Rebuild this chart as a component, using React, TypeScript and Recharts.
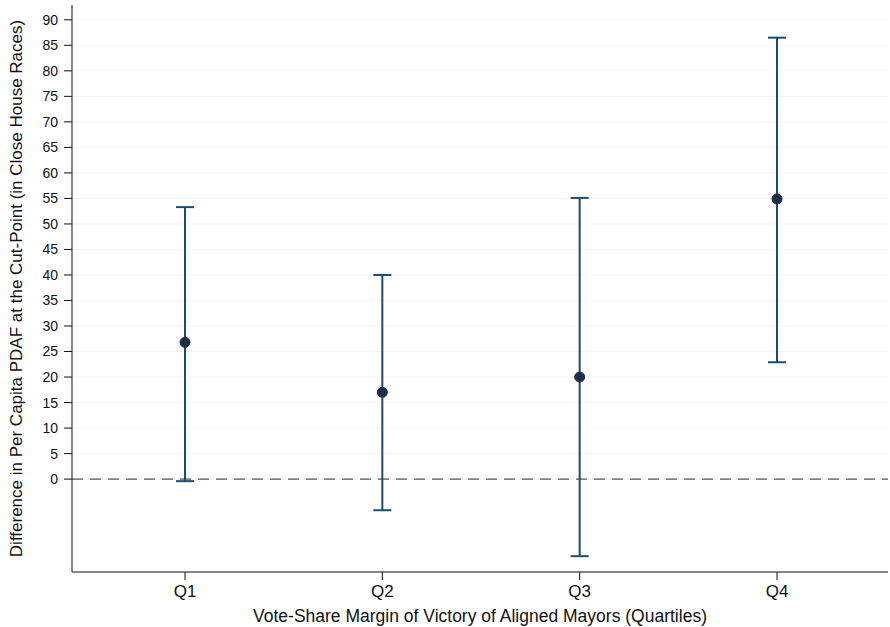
import { ComposedChart, Line, ErrorBar, XAxis, YAxis, CartesianGrid, ReferenceLine } from 'recharts'

const quartiles = ['Q1', 'Q2', 'Q3', 'Q4']
const estimates = [26.8, 17.0, 20.0, 54.9]
const upperCI = [53.3, 40.0, 55.1, 86.5]
const lowerCI = [-0.4, -6.1, -15.1, 22.9]
const yTicks = [0, 5, 10, 15, 20, 25, 30, 35, 40, 45, 50, 55, 60, 65, 70, 75, 80, 85, 90]

const data = quartiles.map((q, i) => ({
  q,
  est: estimates[i],
  err: [estimates[i] - lowerCI[i], upperCI[i] - estimates[i]],
}))

const font = 'Liberation Sans, Arial, Helvetica, sans-serif'

export default function App() {
  return (
    <div style={{ position: 'absolute', left: 0, top: 0, background: '#fff' }}>
      <ComposedChart
        width={890}
        height={627}
        data={data}
        margin={{ top: 5, right: 2, bottom: 25, left: 40 }}
      >
        <CartesianGrid vertical={false} stroke='#f3f4f5' horizontalValues={yTicks} />
        <XAxis
          dataKey='q'
          scale='point'
          padding={{ left: 113, right: 111 }}
          height={30}
          tickSize={8}
          tickMargin={5}
          stroke='#111'
          tick={{ fill: '#111', fontSize: 17, fontFamily: font }}
          label={{
            value: 'Vote-Share Margin of Victory of Aligned Mayors (Quartiles)',
            position: 'insideBottom',
            offset: -20,
            fill: '#111',
            fontSize: 17.5,
            fontFamily: font,
          }}
        />
        <YAxis
          type='number'
          domain={[-18.2, 92.9]}
          allowDataOverflow
          ticks={yTicks}
          interval={0}
          width={32}
          tickSize={8}
          tickMargin={6}
          stroke='#111'
          tick={{ fill: '#111', fontSize: 14, fontFamily: font }}
          label={{
            value: 'Difference in Per Capita PDAF at the Cut-Point (in Close House Races)',
            angle: -90,
            position: 'insideLeft',
            offset: -24,
            style: { textAnchor: 'middle' },
            fill: '#111',
            fontSize: 17,
            fontFamily: font,
          }}
        />
        <ReferenceLine y={0} stroke='#555' strokeDasharray='11 7' strokeWidth={1.2} />
        <Line
          dataKey='est'
          stroke='none'
          isAnimationActive={false}
          dot={{ r: 5, fill: '#1f2d48', stroke: '#1f2d48', strokeWidth: 1 }}
          activeDot={false}
        >
          <ErrorBar dataKey='err' direction='y' width={9} stroke='#1d4c6e' strokeWidth={2} />
        </Line>
      </ComposedChart>
    </div>
  )
}
